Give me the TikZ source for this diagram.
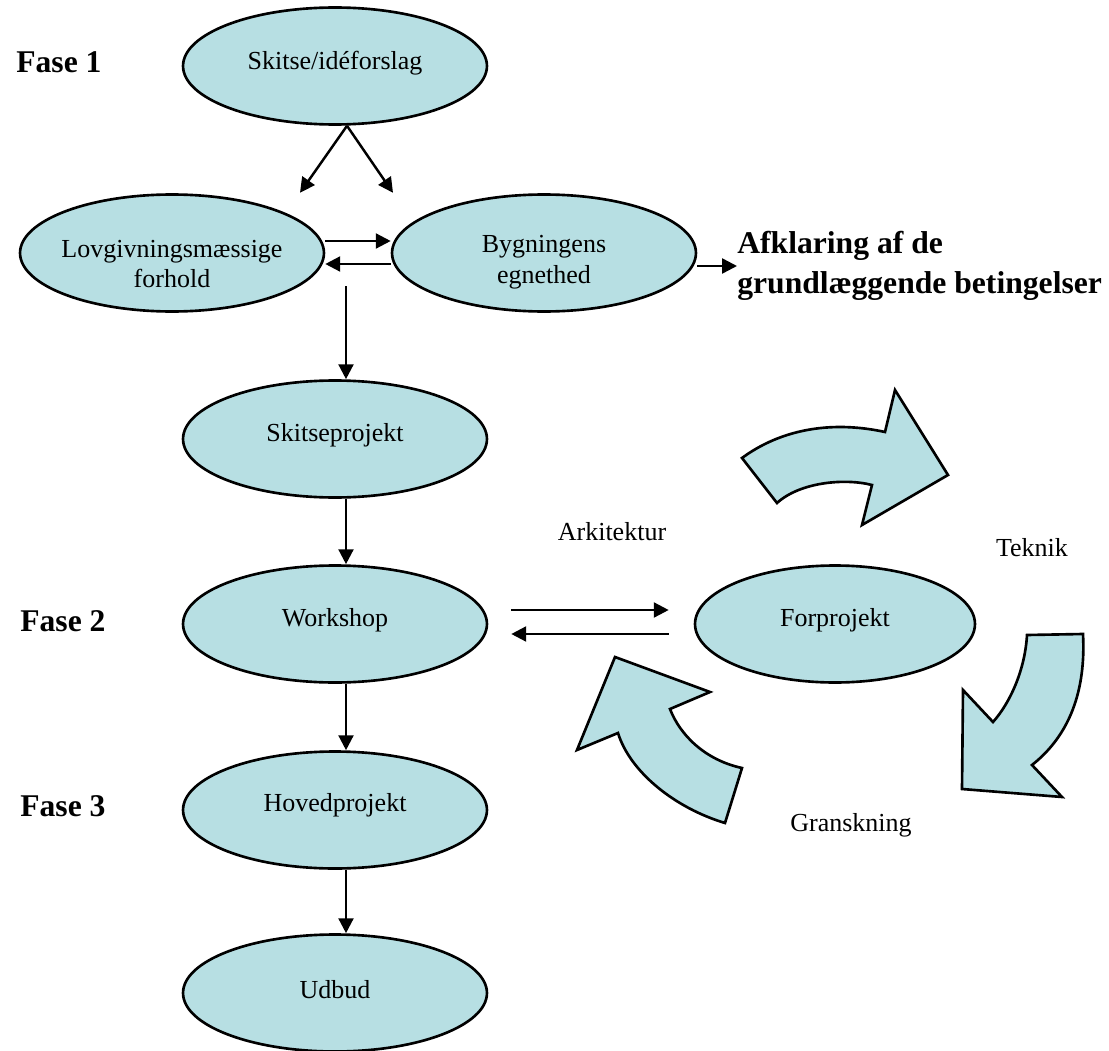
\documentclass[tikz,border=0pt]{standalone}
\usepackage{fontspec}
\setmainfont{Liberation Serif}
\usetikzlibrary{shapes.geometric, arrows.meta, calc}
\definecolor{stagefill}{RGB}{183,223,227}
\newcommand{\normaltext}{\fontsize{14.8}{17.6}\selectfont}
\newcommand{\bigbold}{\fontsize{18}{22.4}\selectfont\bfseries}
\tikzset{
  stage/.style={ellipse, draw, line width=1.5pt, fill=stagefill,
    minimum width=6.08cm, minimum height=2.34cm, inner sep=0pt},
  link/.style={-{Triangle[length=8.5pt,width=8.5pt]}, line width=1.4pt},
  turn/.style={draw, line width=1.5pt, fill=stagefill, line join=miter}
}
% ellipse with its text a little off the centre
\newcommand{\drawstage}[5][]{
  \node[stage, #1] (#2) at (#3) {};
  \node[font=\normaltext, align=center] (#2-text) at ($(#2)+(0,#4)$) {#5};
}

\begin{document}
\begin{tikzpicture}[x=0.02cm, y=-0.02cm]
  \useasboundingbox (0,0) rectangle (1109,1051);
  % phases
  \node[anchor=west, inner sep=0pt, font=\bigbold] (f1) at (16,62) {Fase 1};
  \node[anchor=west, inner sep=0pt, font=\bigbold] (f2) at (20,621) {Fase 2};
  \node[anchor=west, inner sep=0pt, font=\bigbold] (f3) at (20,806) {Fase 3};

  \drawstage{skitse}{335,66}{-3}{Skitse/idéforslag}
  \drawstage{lov}{172,253}{11}{Lovgivningsmæssige\\forhold}
  \drawstage{byg}{544,253}{9}{Bygningens\\egnethed}
  \drawstage{skp}{335,439}{-4}{Skitseprojekt}
  \drawstage{wsh}{335,624}{-4}{Workshop}
  \drawstage[minimum width=5.6cm]{forp}{835,624}{-4}{Forprojekt}
  \drawstage{hov}{335,810}{-5}{Hovedprojekt}
  \drawstage{udb}{335,993}{-3}{Udbud}

  \node[anchor=west, align=left, inner sep=0pt, font=\bigbold] (afk) at (737,266)
    {Afklaring af de\\grundlæggende betingelser};

  % arrows
  \coordinate (split) at ($(skitse.south)+(12,0)$);
  \coordinate (lovin) at ($(split)+(-47,67)$);
  \coordinate (bygin) at ($(split)+(46,67)$);
  \draw[link] (split) -- (lovin);
  \draw[link] (split) -- (bygin);
  \draw[link] ($(lov.east)+(0,-12)$) -- ($(byg.west)+(0,-12)$);
  \draw[link] ($(byg.west)+(0,11)$) -- ($(lov.east)+(0,11)$);
  \draw[link] ($(byg.east)+(0,13)$) -- (afk.west);

  \coordinate (down) at ($(skp.north)+(11,-93)$);
  \draw[link] (down) -- ($(skp.north)+(11,0)$);
  \foreach \a/\b in {skp/wsh, wsh/hov, hov/udb}
    \draw[link] ($(\a.south)+(11,0)$) -- ($(\b.north)+(11,0)$);

  \draw[link] ($(wsh.east)+(23,-14)$) -- ($(forp.west)+(-25,-14)$);
  \draw[link] ($(forp.west)+(-25,10)$) -- ($(wsh.east)+(23,10)$);

  % cycle around Forprojekt
  \draw[turn] (742,458) .. controls (780,430) and (830,420) .. (885,432)
    -- (895,390) -- (948,475) -- (862,525) -- (872,485)
    .. controls (845,478) and (800,482) .. (777,503) -- cycle;
  \draw[turn] (1027,635) -- (1083,634)
    .. controls (1086,690) and (1070,735) .. (1032,765)
    -- (1062,797) -- (962,789) -- (963,690) -- (993,722)
    .. controls (1010,703) and (1025,670) .. cycle;
  \draw[turn] (725,823) .. controls (675,808) and (630,772) .. (618,733)
    -- (577,750) -- (615,657) -- (710,692) -- (670,709)
    .. controls (680,735) and (705,760) .. (742,768) -- cycle;

  \node[font=\normaltext] (arch) at (612,532) {Arkitektur};
  \node[font=\normaltext] (tek) at (1032,548) {Teknik};
  \node[font=\normaltext] (gran) at (851,825) {Granskning};
\end{tikzpicture}
\end{document}
